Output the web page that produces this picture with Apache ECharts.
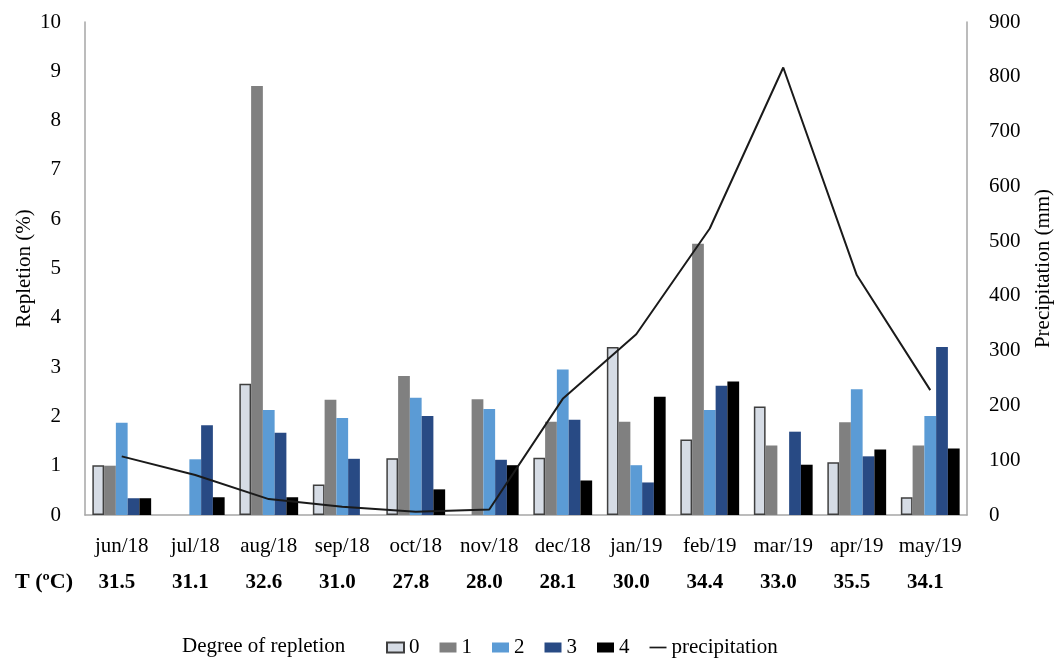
<!DOCTYPE html>
<html>
<head>
<meta charset="utf-8">
<script src="https://cdn.jsdelivr.net/npm/echarts@6/dist/echarts.min.js"></script>
<style>
html,body{margin:0;padding:0;background:#fff;}
#chart{width:1057px;height:660px;}
</style>
</head>
<body>
<div id="chart"></div>
<script>
var months = ['jun/18','jul/18','aug/18','sep/18','oct/18','nov/18','dec/18','jan/19','feb/19','mar/19','apr/19','may/19'];
var temps = ['31.5','31.1','32.6','31.0','27.8','28.0','28.1','30.0','34.4','33.0','35.5','34.1'];
var degree0 = [1.01, null, 2.66, 0.62, 1.15, null, 1.16, 3.41, 1.53, 2.20, 1.07, 0.36];
var degree1 = [1.00, null, 8.70, 2.34, 2.82, 2.35, 1.89, 1.89, 5.50, 1.41, 1.88, 1.41];
var degree2 = [1.87, 1.13, 2.13, 1.97, 2.38, 2.15, 2.95, 1.01, 2.13, null, 2.55, 2.01];
var degree3 = [0.34, 1.82, 1.67, 1.14, 2.01, 1.12, 1.93, 0.66, 2.62, 1.69, 1.19, 3.41];
var degree4 = [0.34, 0.36, 0.36, null, 0.52, 1.01, 0.70, 2.40, 2.71, 1.02, 1.33, 1.35];
var precipitation = [107, 73, 29, 15, 6, 10, 212, 330, 523, 817, 438, 228];
var leftTicks = {min: 0, max: 10, interval: 1};
var rightTicks = {min: 0, max: 900, interval: 100};

var FONT = 'Liberation Serif';
var axisGray = '#A6A6A6';
var chart = echarts.init(document.getElementById('chart'));

function barSeries(name, data, color, border) {
  return {
    name: name, type: 'bar', data: data, yAxisIndex: 0, xAxisIndex: 0,
    barGap: '0%', barCategoryGap: '20%',
    itemStyle: border ? {color: color, borderColor: '#3F3F3F', borderWidth: 1.5} : {color: color}
  };
}

chart.setOption({
  animation: false,
  textStyle: {fontFamily: FONT},
  grid: {left: 85, right: 90, top: 22, bottom: 145, outerBoundsMode: 'none', containLabel: false},
  legend: {
    left: 381, top: 632,
    itemWidth: 17, itemHeight: 10, itemGap: 20,
    textStyle: {fontFamily: FONT, fontSize: 21, color: '#000'},
    data: [
      {name: '0', icon: 'rect'},
      {name: '1', icon: 'rect'},
      {name: '2', icon: 'rect'},
      {name: '3', icon: 'rect'},
      {name: '4', icon: 'rect'},
      {name: 'precipitation', icon: 'path://M0,0h20v2h-20z'}
    ]
  },
  graphic: [
    {type: 'text', left: 182, top: 636, style: {text: 'Degree of repletion', fontFamily: FONT, fontSize: 21, fill: '#000'}},
    {type: 'text', left: 15, top: 571, style: {text: 'T (ºC)', fontFamily: FONT, fontSize: 22, fontWeight: 'bold', fill: '#000'}}
  ],
  xAxis: [
    {
      type: 'category', data: months, position: 'bottom',
      axisLine: {lineStyle: {color: axisGray, width: 1.5}},
      axisTick: {show: false},
      axisLabel: {fontFamily: FONT, fontSize: 21, color: '#000', margin: 21, interval: 0}
    },
    {
      type: 'category', data: temps, position: 'bottom', offset: 36,
      axisLine: {show: false}, axisTick: {show: false},
      axisLabel: {fontFamily: FONT, fontSize: 21, fontWeight: 'bold', color: '#000', margin: 21, interval: 0, padding: [0, 10, 0, 0]}
    }
  ],
  yAxis: [
    {
      type: 'value', min: leftTicks.min, max: leftTicks.max, interval: leftTicks.interval,
      name: 'Repletion (%)', nameLocation: 'middle', nameGap: 50, nameRotate: 90, nameMoveOverlap: false,
      nameTextStyle: {fontFamily: FONT, fontSize: 21, color: '#000'},
      axisLine: {show: true, lineStyle: {color: axisGray, width: 1.5}},
      axisTick: {show: false}, splitLine: {show: false},
      axisLabel: {fontFamily: FONT, fontSize: 21, color: '#000', margin: 24}
    },
    {
      type: 'value', min: rightTicks.min, max: rightTicks.max, interval: rightTicks.interval,
      position: 'right',
      name: 'Precipitation (mm)', nameLocation: 'middle', nameGap: 66, nameRotate: 90,
      nameTextStyle: {fontFamily: FONT, fontSize: 21, color: '#000'},
      axisLine: {show: true, lineStyle: {color: axisGray, width: 1.5}},
      axisTick: {show: false}, splitLine: {show: false},
      axisLabel: {fontFamily: FONT, fontSize: 21, color: '#000', margin: 22}
    }
  ],
  series: [
    barSeries('0', degree0, '#D6DCE5', true),
    barSeries('1', degree1, '#808080', false),
    barSeries('2', degree2, '#5B9BD5', false),
    barSeries('3', degree3, '#284A84', false),
    barSeries('4', degree4, '#000000', false),
    {
      name: 'precipitation', type: 'line', data: precipitation, yAxisIndex: 1, xAxisIndex: 0,
      symbol: 'none', lineStyle: {color: '#1a1a1a', width: 2}, itemStyle: {color: '#1a1a1a'}, z: 5
    }
  ]
});
</script>
</body>
</html>
